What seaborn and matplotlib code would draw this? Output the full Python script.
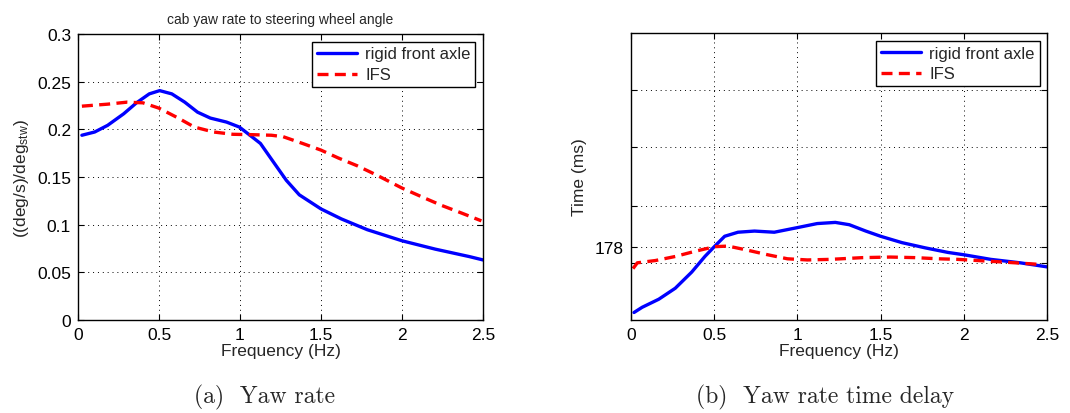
import numpy as np
import pandas as pd
import matplotlib
matplotlib.use("Agg")
import matplotlib.pyplot as plt
import seaborn as sns

# ---- data ----
freq_a_rigid = [0.024, 0.103, 0.183, 0.282, 0.361, 0.44, 0.504, 0.579, 0.659, 0.738, 0.817, 0.917, 0.996,
                1.075, 1.126, 1.206, 1.286, 1.366, 1.5, 1.626, 1.786, 2.0, 2.206, 2.416, 2.5]
yaw_rigid = [0.1938, 0.1972, 0.2042, 0.2163, 0.2278, 0.2372, 0.2406, 0.2372, 0.2285, 0.218, 0.2118, 0.2076, 0.2024,
             0.192, 0.1852, 0.1658, 0.1465, 0.1313, 0.1165, 0.106, 0.0947, 0.0831, 0.0743, 0.0665, 0.063]
freq_a_ifs = [0.024, 0.183, 0.302, 0.401, 0.5, 0.619, 0.718, 0.837, 0.956, 1.075, 1.194, 1.266, 1.386, 1.5,
              1.606, 1.726, 1.846, 2.0, 2.126, 2.246, 2.366, 2.49]
yaw_ifs = [0.2243, 0.2264, 0.2285, 0.2278, 0.2222, 0.2118, 0.2024, 0.1972, 0.1948, 0.1944, 0.1938, 0.1923, 0.1852, 0.1782,
           0.170, 0.1616, 0.1518, 0.1384, 0.1289, 0.1201, 0.1123, 0.104]

freq_b_rigid = [0.018, 0.067, 0.167, 0.266, 0.365, 0.444, 0.504, 0.563, 0.643, 0.742, 0.861, 1.0, 1.119, 1.228,
                1.312, 1.411, 1.5, 1.628, 1.767, 1.905, 2.0, 2.162, 2.34, 2.5]
delay_rigid = [176.86, 176.95, 177.09, 177.28, 177.56, 177.83, 178.01, 178.18, 178.25, 178.27, 178.25, 178.33, 178.40, 178.42,
               178.38, 178.27, 178.18, 178.07, 177.98, 177.90, 177.86, 177.78, 177.72, 177.65]
freq_b_ifs = [0.012, 0.038, 0.147, 0.266, 0.385, 0.504, 0.583, 0.683, 0.821, 0.94, 1.06, 1.198, 1.391, 1.559,
              1.708, 1.846, 1.964, 2.083, 2.2, 2.31, 2.419, 2.46]
delay_ifs = [177.62, 177.72, 177.76, 177.83, 177.92, 178.0, 178.01, 177.95, 177.86, 177.79, 177.77, 177.78, 177.81, 177.82,
             177.81, 177.79, 177.78, 177.76, 177.74, 177.72, 177.70, 177.69]

series_names = ["rigid front axle", "IFS"]
x_ticks = [0, 0.5, 1, 1.5, 2, 2.5]
x_tick_labels = ["0", "0.5", "1", "1.5", "2", "2.5"]
ya_ticks = [0, 0.05, 0.1, 0.15, 0.2, 0.25, 0.3]
ya_tick_labels = ["0", "0.05", "0.1", "0.15", "0.2", "0.25", "0.3"]
yb_ticks = [177.72, 178.0, 178.71, 179.72, 180.71]
yb_tick_labels = ["", "178", "", "", ""]

sns.set_theme(style="white")
plt.rcParams['font.family'] = ['Liberation Sans', 'DejaVu Sans']
plt.rcParams['mathtext.fontset'] = 'custom'
plt.rcParams['mathtext.rm'] = 'Liberation Sans'
plt.rcParams['mathtext.it'] = 'Liberation Sans'

fig = plt.figure(figsize=(10.7, 4.14), dpi=100)
ax1 = fig.add_axes([78/1070, 1-321/414, 405/1070, 286/414])
ax2 = fig.add_axes([631/1070, 1-321/414, 416/1070, 287/414])

palette = {"rigid front axle": "#0000ff", "IFS": "#ff0000"}

def build(fr, vr, fi, vi):
    d1 = pd.DataFrame({"x": fr, "y": vr, "s": series_names[0]})
    d2 = pd.DataFrame({"x": fi, "y": vi, "s": series_names[1]})
    return pd.concat([d1, d2], ignore_index=True)

df_a = build(freq_a_rigid, yaw_rigid, freq_a_ifs, yaw_ifs)
df_b = build(freq_b_rigid, delay_rigid, freq_b_ifs, delay_ifs)

for ax, df in [(ax1, df_a), (ax2, df_b)]:
    sns.lineplot(data=df, x="x", y="y", hue="s", style="s", palette=palette,
                 dashes={"rigid front axle": "", "IFS": (3.3, 1.9)}, linewidth=2.4,
                 sort=False, ax=ax)
    for ln in ax.get_lines():
        ln.set_solid_joinstyle("round")
        ln.set_dash_capstyle("butt")
    ax.set_xlim(0, 2.5)
    ax.set_xticks(x_ticks)
    ax.set_xticklabels(x_tick_labels)
    ax.grid(True, color="black", linestyle=(0, (1, 4)), linewidth=0.7)
    ax.tick_params(direction="in", length=4, width=0.8, labelsize=12.5, colors="black",
                   top=True, right=True, bottom=True, left=True, pad=5)
    for sp in ax.spines.values():
        sp.set_color("black")
        sp.set_linewidth(1.0)
    ax.set_xlabel("Frequency (Hz)", fontsize=12.5, labelpad=1)
    leg = ax.legend(loc="upper right", fontsize=12, frameon=True, fancybox=False,
                    edgecolor="black", framealpha=1, borderpad=0.3, handlelength=2.4,
                    handletextpad=0.5, labelspacing=0.35, borderaxespad=0.45)
    leg.get_frame().set_linewidth(1.0)

ax1.set_ylim(0, 0.3)
ax1.set_yticks(ya_ticks)
ax1.set_yticklabels(ya_tick_labels)
ax1.set_ylabel("((deg/s)/deg$_{\\mathrm{stw}}$)", fontsize=12.5, labelpad=4)
ax1.set_title("cab yaw rate to steering wheel angle", fontsize=10, pad=8)

ax2.set_ylim(176.73, 181.70)
ax2.set_yticks(yb_ticks)
ax2.set_yticklabels(yb_tick_labels)
ax2.set_ylabel("Time (ms)", fontsize=12.5, labelpad=6)

fig.text(265/1070, 1-397/414, "(a)  Yaw rate", family=["cmr10", "DejaVu Serif"],
         fontsize=17, ha="center", va="center")
fig.text(825/1070, 1-397/414, "(b)  Yaw rate time delay", family=["cmr10", "DejaVu Serif"],
         fontsize=17, ha="center", va="center")

fig.savefig("out.png", dpi=100)
